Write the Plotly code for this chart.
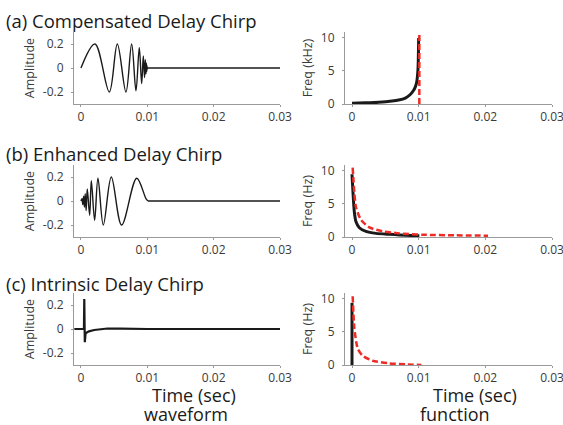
import plotly.graph_objects as go

# ---------------- data ----------------
# (a) compensated delay chirp waveform: extrema of the oscillation
wave_a_t = [0.0, 0.00211, 0.00427, 0.00548, 0.00678, 0.00764, 0.00829, 0.00879,
            0.00915, 0.00940, 0.00958, 0.00970, 0.00979, 0.00986, 0.00991, 0.00995,
            0.00998, 0.0100]
wave_a_v = [0.0, 0.20, -0.20, 0.20, -0.20, 0.20, -0.19, 0.17,
            -0.13, 0.10, -0.08, 0.07, -0.05, 0.04, -0.03, 0.02,
            -0.01, 0.0]
tail_a_t = [0.0100, 0.0300]
tail_a_v = [0.0, 0.0]

# (b) enhanced delay chirp waveform
wave_b_t = [0.0, 0.00015, 0.00028, 0.00040, 0.00052, 0.00064, 0.00078, 0.00095,
            0.00131, 0.00156, 0.00206, 0.00256, 0.00337, 0.00457, 0.00613,
            0.00840, 0.0098, 0.0101]
wave_b_v = [0.0, 0.02, -0.03, 0.04, -0.05, 0.06, -0.08, 0.10,
            -0.12, 0.17, -0.16, 0.19, -0.20, 0.20, -0.20,
            0.19, 0.02, 0.0]
tail_b_t = [0.0101, 0.0300]
tail_b_v = [0.0, 0.0]

# (c) intrinsic delay chirp waveform (impulse-like)
wave_c_t = [-0.0010, 0.00045, 0.00050, 0.00058, 0.00070, 0.00120, 0.0020,
            0.0030, 0.0040, 0.0060, 0.0100, 0.0300]
wave_c_v = [0.0, 0.0, 0.25, -0.11, -0.035, -0.02, -0.008,
            0.0, 0.004, 0.003, 0.0, 0.0]

# instantaneous frequency functions
freq_a_t = [0.0, 0.002, 0.004, 0.006, 0.007, 0.008, 0.0087, 0.0092,
            0.0095, 0.0097, 0.0099, 0.0100]
freq_a_v = [0.12, 0.18, 0.27, 0.45, 0.6, 0.9, 1.4, 2.0,
            2.6, 3.3, 5.3, 10.0]
ref_a_t = [0.0101, 0.0101]
ref_a_v = [0.0, 10.5]

freq_b_t = [0.0, 0.00035, 0.0006, 0.0011, 0.0021, 0.0036, 0.0056, 0.0081, 0.0101]
freq_b_v = [9.5, 3.8, 2.3, 1.4, 0.85, 0.55, 0.4, 0.25, 0.2]
ref_b_t = [0.0001, 0.0006, 0.00135, 0.0026, 0.0046, 0.0071, 0.0106, 0.0156, 0.0204]
ref_b_v = [10.5, 4.5, 2.6, 1.45, 0.85, 0.55, 0.35, 0.25, 0.2]

freq_c_t = [0.0, 0.0]
freq_c_v = [0.0, 9.4]
ref_c_t = [0.0001, 0.00035, 0.00085, 0.0016, 0.0031, 0.0056, 0.0081, 0.0104]
ref_c_v = [10.4, 5.6, 2.5, 1.4, 0.65, 0.25, 0.1, 0.0]

row_titles = ["(a) Compensated Delay Chirp", "(b) Enhanced Delay Chirp",
              "(c) Intrinsic Delay Chirp"]
freq_labels = ["Freq (kHz)", "Freq (Hz)", "Freq (Hz)"]
x_ticks = [0, 0.01, 0.02, 0.03]
x_tick_text = ["0", "0.01", "0.02", "0.03"]
amp_ticks = [-0.2, 0, 0.2]
amp_tick_text = ["-0.2", "0", "0.2"]
freq_ticks = [0, 5, 10]

# ---------------- figure ----------------
W, H = 563, 425
FONT = "Open Sans"
BLACK = "#1a1a1a"
RED = "#ee2b24"
AXC = "#9a9a9a"
TXT = "#3a3a3a"


def px_x(p):
    return p / W


def px_y(p):
    return 1 - p / H


fig = go.Figure()

waves = [(wave_a_t, wave_a_v, 1.4, "spline"), (wave_b_t, wave_b_v, 1.4, "spline"),
         (wave_c_t, wave_c_v, 2.2, "linear")]
tails = [(tail_a_t, tail_a_v), (tail_b_t, tail_b_v), None]
freqs = [(freq_a_t, freq_a_v), (freq_b_t, freq_b_v), (freq_c_t, freq_c_v)]
refs = [(ref_a_t, ref_a_v), (ref_b_t, ref_b_v), (ref_c_t, ref_c_v)]

row_px = [(32, 104), (165, 237), (293, 365)]
left_px = (74, 280)
right_px = (345, 552)

for i in range(3):
    li = 2 * i + 1
    ri = 2 * i + 2
    lx = "x" if li == 1 else f"x{li}"
    ly = "y" if li == 1 else f"y{li}"
    rx = f"x{ri}"
    ry = f"y{ri}"
    wt, wv, lw, shp = waves[i]
    fig.add_trace(go.Scatter(x=wt, y=wv, mode="lines", xaxis=lx, yaxis=ly,
                             line=dict(color=BLACK, width=lw, shape=shp, smoothing=1.0),
                             showlegend=False, hoverinfo="skip"))
    if tails[i] is not None:
        fig.add_trace(go.Scatter(x=tails[i][0], y=tails[i][1], mode="lines",
                                 xaxis=lx, yaxis=ly,
                                 line=dict(color=BLACK, width=lw),
                                 showlegend=False, hoverinfo="skip"))
    rt, rv = refs[i]
    ft, fv = freqs[i]
    fig.add_trace(go.Scatter(x=ft, y=fv, mode="lines", xaxis=rx, yaxis=ry,
                             line=dict(color=BLACK, width=3, shape="spline", smoothing=0.6),
                             showlegend=False, hoverinfo="skip"))
    fig.add_trace(go.Scatter(x=rt, y=rv, mode="lines", xaxis=rx, yaxis=ry,
                             line=dict(color=RED, width=2.5, dash="6px,3px",
                                       shape="spline", smoothing=0.6),
                             showlegend=False, hoverinfo="skip"))

    top, bot = row_px[i]
    ydom = [px_y(bot), px_y(top)]
    common_x = dict(range=[-0.00105, 0.03], tickvals=x_ticks, ticktext=x_tick_text,
                    showline=True, linecolor=AXC, linewidth=1, ticks="outside",
                    ticklen=2, tickcolor=AXC, showgrid=False, zeroline=False,
                    automargin=False, ticklabeloverflow="allow",
                    tickfont=dict(family=FONT, size=12, color=TXT), fixedrange=True)
    common_y = dict(showline=True, linecolor=AXC, linewidth=1, ticks="outside",
                    ticklen=2, tickcolor=AXC, showgrid=False, zeroline=False,
                    automargin=False,
                    tickfont=dict(family=FONT, size=12, color=TXT), fixedrange=True,
                    ticklabelstandoff=5)
    lxk = "xaxis" if li == 1 else f"xaxis{li}"
    lyk = "yaxis" if li == 1 else f"yaxis{li}"
    fig.layout[lxk] = dict(domain=[px_x(left_px[0]), px_x(left_px[1])], anchor=ly, **common_x)
    fig.layout[lyk] = dict(domain=ydom, anchor=lx, range=[-0.3, 0.3],
                           tickvals=amp_ticks, ticktext=amp_tick_text,
                           title=dict(text="Amplitude", standoff=5,
                                      font=dict(family=FONT, size=12.5, color=TXT)),
                           **common_y)
    fig.layout[f"xaxis{ri}"] = dict(domain=[px_x(right_px[0]), px_x(right_px[1])],
                                    anchor=ry, **common_x)
    fig.layout[f"yaxis{ri}"] = dict(domain=ydom, anchor=rx, range=[0, 10.9],
                                    tickvals=freq_ticks,
                                    title=dict(text=freq_labels[i], standoff=5,
                                               font=dict(family=FONT, size=12.5, color=TXT)),
                                    **common_y)

annotations = []
title_y = [20, 154, 283]
for i in range(3):
    annotations.append(dict(text=row_titles[i], x=px_x(4), y=px_y(title_y[i]),
                            xref="paper", yref="paper", xanchor="left", yanchor="middle",
                            showarrow=False, font=dict(family=FONT, size=18.5, color=BLACK)))
bottom = [("Time (sec)", 194, 395), ("waveform", 186, 414),
          ("Time (sec)", 475, 395), ("function", 455, 414)]
for txt, cx, cy in bottom:
    annotations.append(dict(text=txt, x=px_x(cx), y=px_y(cy), xref="paper", yref="paper",
                            xanchor="center", yanchor="middle", showarrow=False,
                            borderpad=0,
                            font=dict(family=FONT, size=18, color=BLACK)))

fig.update_layout(width=W, height=H, margin=dict(l=0, r=0, t=0, b=0),
                  paper_bgcolor="white", plot_bgcolor="white",
                  annotations=annotations, showlegend=False)

fig.write_html("out.html", config={"displayModeBar": False},
               post_script="document.body.style.margin='0px';"
                           "document.documentElement.style.overflow='hidden';")
